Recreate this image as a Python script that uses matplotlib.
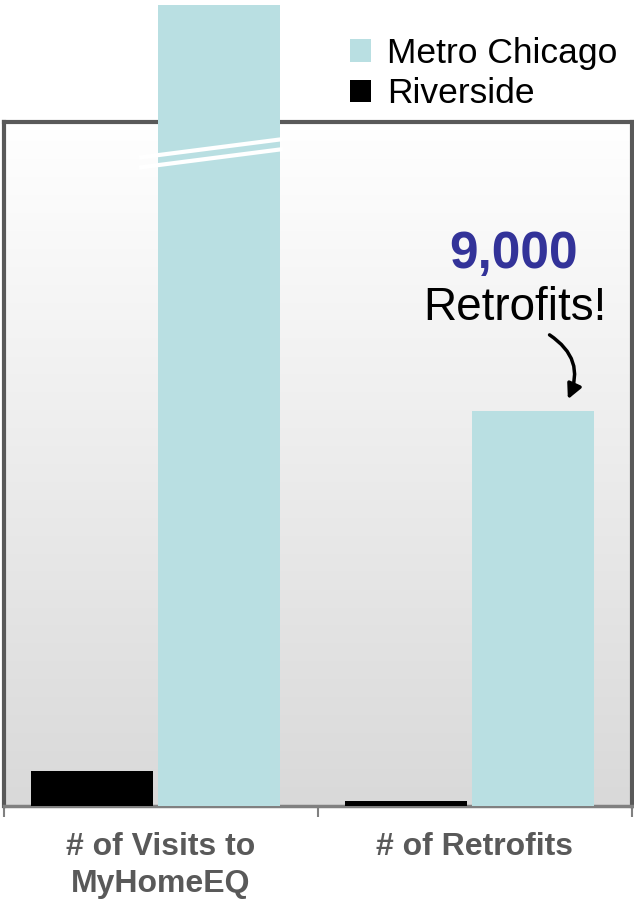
import numpy as np
import matplotlib.pyplot as plt
from matplotlib.colors import LinearSegmentedColormap

plt.rcParams['font.family'] = ['Liberation Sans', 'DejaVu Sans']

categories = ["# of Visits to\nMyHomeEQ", "# of Retrofits"]
riverside = [800, 115]
metro = [18250, 9000]   # first bar is broken / runs off the chart
series_names = ["Metro Chicago", "Riverside"]

teal = "#b9dfe2"
x = np.arange(len(categories))

fig = plt.figure(figsize=(6.34, 9), dpi=100)
ax = fig.add_axes([4 / 634, 94 / 900, 628 / 634, 684 / 900])
ax.set_xlim(-0.5, 1.5)
ax.set_ylim(0, 15585)

# gradient background
grad = LinearSegmentedColormap.from_list("bg", ["#d9d9d9", "#ffffff"])
ax.imshow(np.linspace(0, 1, 256).reshape(-1, 1), cmap=grad, origin="lower",
          extent=[0, 1, 0, 1], transform=ax.transAxes, aspect="auto", zorder=0)

b1 = ax.bar(x - 0.22, riverside, width=0.39, color="black", zorder=3,
            label=series_names[1])
b2 = ax.bar(x + 0.185, metro, width=0.39, color=teal, zorder=3,
            label=series_names[0], clip_on=False)

# break marks on the tall bar
for off in (0, 10 / 684):
    ax.plot([0.215, 0.444], [0.948 - off, 0.975 - off], transform=ax.transAxes,
            color="white", lw=3, zorder=4, clip_on=False, solid_capstyle="butt")

for side in ["left", "top", "right"]:
    ax.spines[side].set_color("#595959")
    ax.spines[side].set_linewidth(3)
ax.spines["bottom"].set_color("#808080")
ax.spines["bottom"].set_linewidth(2.5)

ax.set_yticks([])
ax.set_xticks(x)
ax.set_xticklabels(categories, fontsize=23, fontweight="bold", color="#595959",
                   linespacing=1.3)
ax.tick_params(axis="x", which="major", length=0, pad=19)
ax.set_xticks([-0.5, 0.5, 1.5], minor=True)
ax.tick_params(axis="x", which="minor", length=8, width=1.5, color="#808080",
               direction="out")

# annotation
ax.text(0.811, 0.806, "9,000", transform=ax.transAxes, fontsize=37, fontweight="bold",
        color="#333399", ha="center", va="center")
ax.text(0.814, 0.728, "Retrofits!", transform=ax.transAxes, fontsize=33,
        color="black", ha="center", va="center")
ax.annotate("", xy=(0.896, 0.591), xytext=(0.865, 0.691), xycoords="axes fraction",
            arrowprops=dict(arrowstyle="-|>", color="black", lw=2.5,
                            mutation_scale=22,
                            connectionstyle="arc3,rad=-0.45"))

fig.legend(handles=[b2, b1], loc="upper left", bbox_to_anchor=(336 / 634, 1 - 23 / 900),
           frameon=False, fontsize=25.5, handlelength=0.6, handleheight=0.6,
           handletextpad=0.45, labelspacing=0.2, borderaxespad=0)

fig.savefig("out.png", dpi=100)
